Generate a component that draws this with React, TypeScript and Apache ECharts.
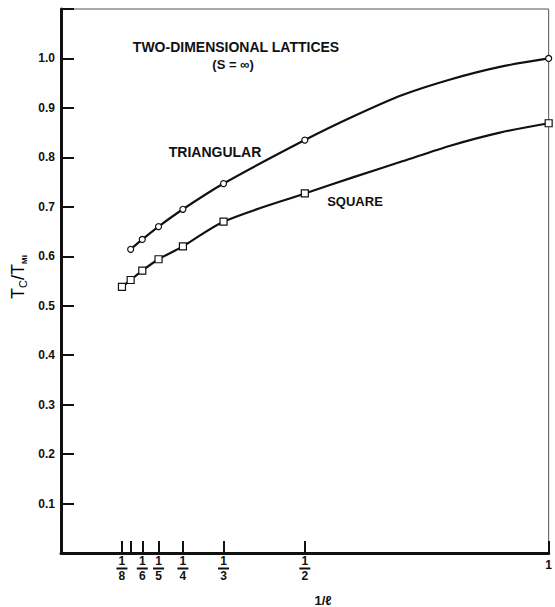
import React, { useEffect, useRef } from "react";
import * as echarts from "echarts";

// Plotted (marked) points
const triangularX = [1 / 7, 1 / 6, 1 / 5, 1 / 4, 1 / 3, 1 / 2, 1];
const triangularY = [0.614, 0.634, 0.66, 0.695, 0.747, 0.835, 1.0];
const squareX = [1 / 8, 1 / 7, 1 / 6, 1 / 5, 1 / 4, 1 / 3, 1 / 2, 1];
const squareY = [0.538, 0.552, 0.571, 0.594, 0.62, 0.67, 0.727, 0.869];

// Points (between the marked points)
const triangularCurveX = [1 / 7, 1 / 6, 1 / 5, 1 / 4, 1 / 3, 1 / 2, 0.6, 0.7, 0.8, 0.9, 1];
const triangularCurveY = [0.614, 0.634, 0.66, 0.695, 0.747, 0.835, 0.883, 0.926, 0.958, 0.983, 1.0];
const squareCurveX = [1 / 8, 1 / 7, 1 / 6, 1 / 5, 1 / 4, 1 / 3, 1 / 2, 0.6, 0.7, 0.8, 0.9, 1];
const squareCurveY = [0.538, 0.552, 0.571, 0.594, 0.62, 0.67, 0.727, 0.76, 0.792, 0.824, 0.85, 0.869];

const xTickDenominators = [8, 7, 6, 5, 4, 3, 2, 1];
const xLabelDenominators = [8, 6, 5, 4, 3, 2, 1];
const yTickLabels = ["0.1", "0.2", "0.3", "0.4", "0.5", "0.6", "0.7", "0.8", "0.9", "1.0"];

const FONT = "Liberation Sans";
const INK = "#111";

export default function App() {
  const ref = useRef<HTMLDivElement>(null);
  useEffect(() => {
    if (!ref.current) return;
    const chart = echarts.init(ref.current, null, { renderer: "svg" });
    const pair = (xs: number[], ys: number[]) => xs.map((x, i) => [x, ys[i]]);
    const curve = (name: string, xs: number[], ys: number[]) => ({
      type: "line",
      name,
      data: pair(xs, ys),
      smooth: 0.3,
      symbol: "none",
      lineStyle: { color: INK, width: 2.2 },
      z: 2,
    });
    const marks = (name: string, xs: number[], ys: number[], symbol: string, size: number) => ({
      type: "scatter",
      name,
      data: pair(xs, ys),
      symbol,
      symbolSize: size,
      itemStyle: { color: "#fff", borderColor: INK, borderWidth: 1.2, opacity: 1 },
      z: 4,
    });
    const label = (text: string, x: number, y: number, size: number) => ({
      type: "text",
      x,
      y,
      style: {
        text,
        fontFamily: FONT,
        fontSize: size,
        fontWeight: "bold",
        fill: INK,
        align: "center",
        verticalAlign: "middle",
      },
    });
    const option: any = {
      animation: false,
      backgroundColor: "#fff",
      grid: {
        left: 61,
        right: 1,
        top: 9,
        bottom: 54,
        show: true,
        borderColor: "#555",
        borderWidth: 1,
      },
      xAxis: {
        type: "value",
        min: 0,
        max: 1,
        splitLine: { show: false },
        axisLine: { show: true, lineStyle: { color: INK, width: 3 } },
        axisTick: {
          show: true,
          inside: true,
          length: 12,
          lineStyle: { color: INK, width: 2 },
          customValues: xTickDenominators.map((d) => 1 / d),
        },
        axisLabel: {
          show: true,
          margin: 3,
          customValues: xLabelDenominators.map((d) => 1 / d),
          formatter: (v: number) => {
            const d = Math.round(1 / v);
            if (d === 1) return "{m|1}";
            return "{n|1}\n{b| }\n{n|" + d + "}";
          },
          rich: {
            n: { fontFamily: FONT, fontSize: 12, fontWeight: "bold", color: INK, lineHeight: 10, align: "center" },
            m: { fontFamily: FONT, fontSize: 12, fontWeight: "bold", color: INK, lineHeight: 10, padding: [8, 0, 0, 0] },
            b: { fontSize: 1, width: 11, height: 2, lineHeight: 5, backgroundColor: INK, align: "center" },
          },
        },
      },
      yAxis: {
        type: "value",
        min: 0,
        max: 1.1,
        interval: 0.1,
        splitLine: { show: false },
        axisLine: { show: true, lineStyle: { color: INK, width: 3 } },
        axisTick: { show: true, inside: true, length: 13, lineStyle: { color: INK, width: 2 } },
        axisLabel: {
          margin: 6,
          fontFamily: FONT,
          fontSize: 12,
          fontWeight: "bold",
          color: INK,
          formatter: (v: number) => {
            const idx = Math.round(v * 10) - 1;
            return idx >= 0 && idx < yTickLabels.length ? yTickLabels[idx] : "";
          },
        },
      },
      series: [
        curve("TRIANGULAR", triangularCurveX, triangularCurveY),
        curve("SQUARE", squareCurveX, squareCurveY),
        marks("TRIANGULAR points", triangularX, triangularY, "circle", 6),
        marks("SQUARE points", squareX, squareY, "rect", 7),
      ],
      graphic: [
        label("TWO-DIMENSIONAL LATTICES", 236, 47, 14),
        label("(S = ∞)", 233, 64, 13),
        label("TRIANGULAR", 215, 152, 14),
        label("SQUARE", 355, 201, 13),
        label("1/ℓ", 323, 600, 13),
        {
          type: "text",
          x: 18,
          y: 277,
          rotation: Math.PI / 2,
          style: {
            text: "{a|T}{b|C}{a|/T}{c|Mi}",
            align: "center",
            verticalAlign: "middle",
            rich: {
              a: { fontFamily: FONT, fontSize: 18, color: INK, lineHeight: 20, verticalAlign: "middle" },
              b: { fontFamily: FONT, fontSize: 11, color: INK, lineHeight: 20, verticalAlign: "bottom", padding: [7, 0, 0, 0] },
              c: { fontFamily: FONT, fontSize: 8, fontWeight: "bold", color: INK, lineHeight: 20, verticalAlign: "bottom", padding: [7, 0, 0, 0] },
            },
          },
        },
      ],
    };
    chart.setOption(option);
    return () => chart.dispose();
  }, []);
  return (
    <div
      ref={ref}
      style={{ position: "absolute", left: 0, top: 0, width: 555, height: 607 }}
    />
  );
}
